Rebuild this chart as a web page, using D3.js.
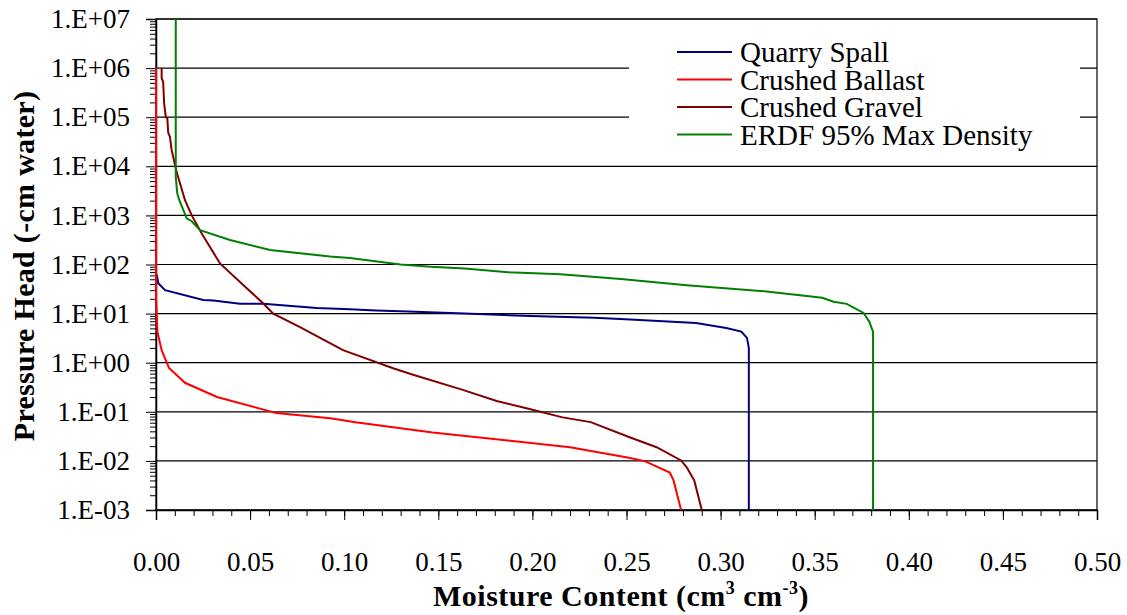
<!DOCTYPE html>
<html lang="en">
<head>
<meta charset="utf-8">
<title>Moisture retention</title>
<script src="https://cdn.jsdelivr.net/npm/d3@7/dist/d3.min.js"></script>
<style>
  body { margin: 0; background: #fff; }
  svg { font-family: "Liberation Serif", "Times New Roman", serif; }
  .tick text { font-family: "Liberation Serif", "Times New Roman", serif; font-size: 27px; fill: #000; }
</style>
</head>
<body>
<script>
// series names and colours
var seriesNames = ["Quarry Spall", "Crushed Ballast", "Crushed Gravel", "ERDF 95% Max Density"];
var seriesColors = ["#000080", "#ff0000", "#800000", "#008000"];

// [moisture content, pressure head]
var quarrySpall = [
  [0.0004, 62], [0.0012, 41.6], [0.0048, 30], [0.0251, 19], [0.0305, 18.5],
  [0.0446, 15.8], [0.057, 15.8], [0.0854, 13], [0.103, 12.2], [0.117, 11.5],
  [0.134, 11.0], [0.164, 10.0], [0.199, 8.9], [0.233, 8.2], [0.252, 7.6],
  [0.287, 6.4], [0.303, 5.1], [0.311, 4.3], [0.314, 3.2], [0.315, 2.0], [0.315, 0.001]
];
var crushedBallast = [
  [0.0, 1e6], [0.0, 20], [0.0004, 10], [0.0007, 4.3], [0.003, 1.8], [0.0069, 0.78],
  [0.0154, 0.39], [0.0324, 0.20], [0.064, 0.094], [0.0925, 0.074], [0.106, 0.061],
  [0.147, 0.038], [0.22, 0.019], [0.252, 0.0115], [0.26, 0.0098], [0.273, 0.0058],
  [0.275, 0.004], [0.279, 0.001]
];
var crushedGravel = [
  [0.003, 1e6], [0.003, 6.3e5], [0.0038, 5.2e5], [0.0043, 1.95e5], [0.0052, 1e5],
  [0.006, 9.6e4], [0.0065, 4.8e4], [0.0074, 4e4], [0.0083, 2.15e4], [0.0109, 7.8e3],
  [0.0154, 2.04e3], [0.019, 1000], [0.0243, 430], [0.034, 105], [0.0482, 33],
  [0.057, 16.1], [0.0623, 10], [0.0765, 5.3], [0.0994, 1.8], [0.103, 1.6],
  [0.126, 0.77], [0.1366, 0.57], [0.163, 0.28], [0.181, 0.166], [0.199, 0.113],
  [0.216, 0.077], [0.231, 0.0616], [0.252, 0.030], [0.266, 0.019], [0.279, 0.0102],
  [0.282, 0.0074], [0.286, 0.004], [0.290, 0.001]
];
var erdf = [
  [0.0105, 1e7], [0.0105, 6100], [0.0113, 2800], [0.0124, 2040], [0.0163, 870],
  [0.019, 760], [0.0234, 500], [0.0393, 316], [0.0606, 198], [0.0925, 145],
  [0.103, 135], [0.130, 100], [0.146, 90], [0.164, 83], [0.187, 69.6], [0.215, 63],
  [0.247, 50.7], [0.282, 38], [0.321, 29], [0.354, 21], [0.36, 17.4],
  [0.367, 15.8], [0.376, 10.3], [0.379, 6.8], [0.381, 4.3], [0.381, 0.001]
];
var allSeries = [quarrySpall, crushedBallast, crushedGravel, erdf];

var xTicks = [0, 0.05, 0.10, 0.15, 0.20, 0.25, 0.30, 0.35, 0.40, 0.45, 0.50];
var yTicks = [1e-3, 1e-2, 1e-1, 1e0, 1e1, 1e2, 1e3, 1e4, 1e5, 1e6, 1e7];

var w = 1127, h = 615;
var pLeft = 156, pRight = 1097, pTop = 19, pBottom = 510;

var svg = d3.select("body").append("svg")
    .attr("width", w)
    .attr("height", h);

var x = d3.scaleLinear().domain([0, 0.5]).range([pLeft, pRight]);
var y = d3.scaleLog().domain([1e-3, 1e7]).range([pBottom, pTop]);

// horizontal gridlines
svg.append("g")
  .selectAll("line")
  .data(yTicks)
  .enter().append("line")
    .attr("x1", pLeft).attr("x2", pRight)
    .attr("y1", d => y(d)).attr("y2", d => y(d))
    .attr("stroke", "#000").attr("stroke-width", 1.2);

// minor ticks
var yMinor = [];
yTicks.slice(0, -1).forEach(function(d) {
  for (var k = 2; k <= 9; k++) yMinor.push(d * k);
});
var xMinor = d3.range(0, 0.5001, 0.01);

svg.append("g")
  .attr("transform", "translate(" + pLeft + ",0)")
  .call(d3.axisLeft(y).tickValues(yMinor).tickSize(6).tickFormat(""))
  .call(g => g.select(".domain").remove());
svg.append("g")
  .attr("transform", "translate(0," + pBottom + ")")
  .call(d3.axisBottom(x).tickValues(xMinor).tickSize(6).tickFormat(""))
  .call(g => g.select(".domain").remove());

// main axes
function fmtExp(d) {
  var e = Math.round(Math.log10(d));
  return "1.E" + (e < 0 ? "-" : "+") + String(Math.abs(e)).padStart(2, "0");
}
svg.append("g")
  .attr("transform", "translate(" + pLeft + ",0)")
  .call(d3.axisLeft(y).tickValues(yTicks).tickSize(10).tickPadding(16).tickFormat(fmtExp))
  .call(g => g.select(".domain").attr("stroke-width", 1.5));
svg.append("g")
  .attr("transform", "translate(0," + pBottom + ")")
  .call(d3.axisBottom(x).tickValues(xTicks).tickSize(10).tickPadding(32).tickFormat(d3.format(".2f")))
  .call(g => g.select(".domain").attr("stroke-width", 1.5));

// frame
svg.append("rect")
  .attr("x", pLeft).attr("y", pTop)
  .attr("width", pRight - pLeft).attr("height", pBottom - pTop)
  .attr("fill", "none").attr("stroke", "#000").attr("stroke-width", 1.2);

// legend background covers gridlines
svg.append("rect")
  .attr("x", 629).attr("y", pTop + 2)
  .attr("width", 451).attr("height", 140)
  .attr("fill", "#fff");

// series
var line = d3.line().x(d => x(d[0])).y(d => y(d[1]));
svg.append("g")
  .selectAll("path")
  .data(allSeries)
  .enter().append("path")
    .attr("d", line)
    .attr("fill", "none")
    .attr("stroke", (d, i) => seriesColors[i])
    .attr("stroke-width", 2);

// legend
var lg = svg.append("g").selectAll("g")
  .data(seriesNames)
  .enter().append("g")
    .attr("transform", (d, i) => "translate(677," + (52 + i * 27.5) + ")");
lg.append("line")
  .attr("x1", 0).attr("x2", 55)
  .attr("stroke", (d, i) => seriesColors[i])
  .attr("stroke-width", 2);
lg.append("text")
  .attr("x", 63).attr("dy", "0.35em")
  .attr("font-size", 29)
  .text(d => d);

// axis titles
var xt = svg.append("text")
  .attr("x", 621).attr("y", 606)
  .attr("text-anchor", "middle")
  .attr("font-size", 30).attr("font-weight", "bold")
  .attr("letter-spacing", 0.5);
xt.append("tspan").text("Moisture Content (cm");
xt.append("tspan").attr("dy", -12).attr("font-size", 18).text("3");
xt.append("tspan").attr("dy", 12).text(" cm");
xt.append("tspan").attr("dy", -12).attr("font-size", 18).text("-3");
xt.append("tspan").attr("dy", 12).text(")");

svg.append("text")
  .attr("transform", "translate(34,266) rotate(-90)")
  .attr("text-anchor", "middle")
  .attr("font-size", 30).attr("font-weight", "bold")
  .attr("letter-spacing", 0.3)
  .text("Pressure Head (-cm water)");
</script>
</body>
</html>
